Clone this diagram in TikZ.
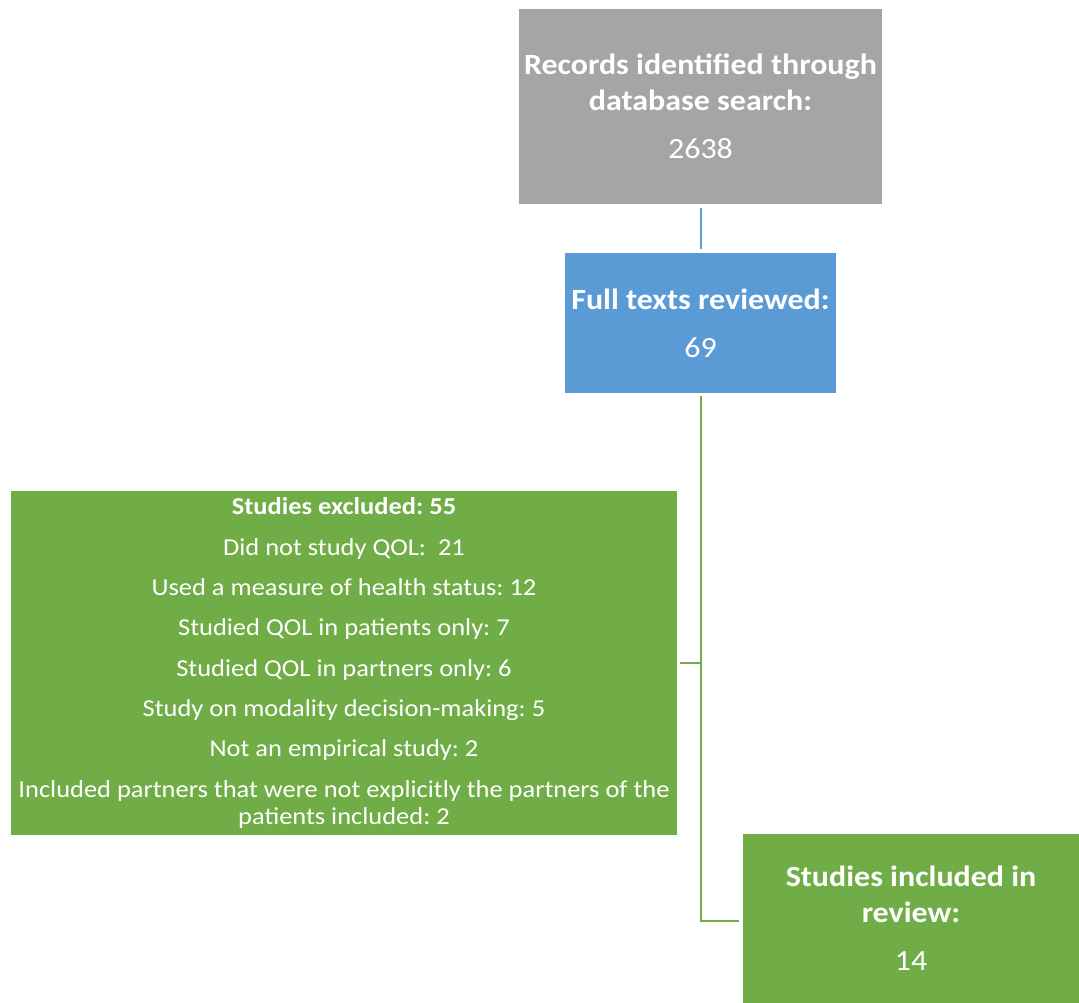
\documentclass[tikz,border=0pt]{standalone}
\usepackage{fontspec}
\setmainfont{Carlito}[FakeStretch=1.09]
\usetikzlibrary{positioning}
\frenchspacing

\definecolor{boxgray}{HTML}{A5A5A5}
\definecolor{boxblue}{HTML}{5B9BD5}
\definecolor{boxgreen}{HTML}{70AD47}

\begin{document}
\begin{tikzpicture}[x=0.75pt, y=-0.75pt,
    box/.style={inner sep=0pt, align=center, text=white},
    bigtext/.style={font=\fontsize{22}{27}\selectfont},
    smalltext/.style={font=\fontsize{18.2}{20.25}\selectfont},
    link/.style={line width=1.5pt}]
    % Page frame
    \useasboundingbox (0,0) rectangle (1079,1003);

    % Boxes
    \node[box, bigtext, fill=boxgray, minimum width=272.25pt, minimum height=146.25pt]
        (records) at (700.5,106.5)
        {\textbf{Records identified through}\\\textbf{database search:}\\[9pt]2638};
    \node[box, bigtext, fill=boxblue, minimum width=203.25pt, minimum height=105pt]
        (fulltexts) at (700.5,323)
        {\textbf{Full texts reviewed:}\\[9pt]69};
    \node[box, smalltext, fill=boxgreen, minimum width=499.5pt, minimum height=258pt]
        (excluded) at (344,663)
        {\textbf{Studies excluded: 55}\\[10pt]
         Did not study QOL:\ \ 21\\[10pt]
         Used a measure of health status: 12\\[10pt]
         Studied QOL in patients only: 7\\[10pt]
         Studied QOL in partners only: 6\\[10pt]
         Study on modality decision-making: 5\\[10pt]
         Not an empirical study: 2\\[10pt]
         Included partners that were not explicitly the partners of the\\
         patients included: 2};
    \node[box, bigtext, fill=boxgreen, minimum width=252pt, minimum height=126.75pt]
        (included) at (911,918.5)
        {\textbf{Studies included in}\\\textbf{review:}\\[9pt]14};

    % Connectors
    \draw[link, boxblue, shorten <=3pt, shorten >=2.5pt] (records.south) -- (fulltexts.north);
    \draw[link, boxgreen, shorten <=2pt, shorten >=2.5pt] (fulltexts.south) |- ([yshift=-2pt]included.west);
    \coordinate (branch) at (excluded.east -| fulltexts.south);
    \draw[link, boxgreen, shorten <=2pt] (excluded.east) -- (branch);
\end{tikzpicture}
\end{document}
